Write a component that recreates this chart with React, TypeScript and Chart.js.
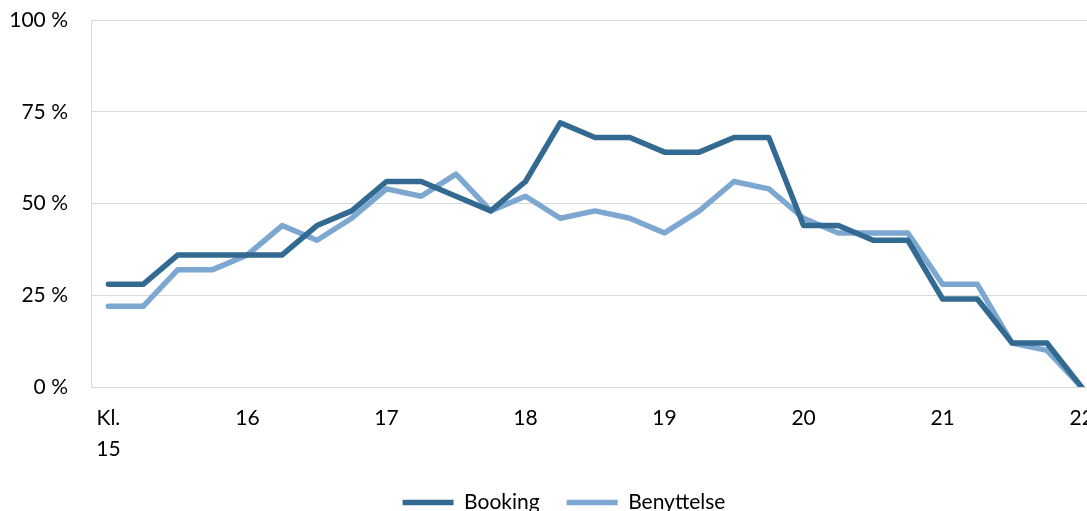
import React, { useEffect, useRef } from "react";
import { Chart, registerables } from "chart.js";

Chart.register(...registerables);

const timeLabels: string[] = [
  "15:00", "15:15", "15:30", "15:45",
  "16:00", "16:15", "16:30", "16:45",
  "17:00", "17:15", "17:30", "17:45",
  "18:00", "18:15", "18:30", "18:45",
  "19:00", "19:15", "19:30", "19:45",
  "20:00", "20:15", "20:30", "20:45",
  "21:00", "21:15", "21:30", "21:45",
  "22:00",
];

const bookingValues: number[] = [
  28, 28, 36, 36,
  36, 36, 44, 48,
  56, 56, 52, 48,
  56, 72, 68, 68,
  64, 64, 68, 68,
  44, 44, 40, 40,
  24, 24, 12, 12,
  0,
];

const benyttelseValues: number[] = [
  22, 22, 32, 32,
  36, 44, 40, 46,
  54, 52, 58, 48,
  52, 46, 48, 46,
  42, 48, 56, 54,
  46, 42, 42, 42,
  28, 28, 12, 10,
  0,
];

const yTicks: number[] = [0, 25, 50, 75, 100];

const FONT = "Lato, 'Noto Sans', sans-serif";

// nudges the legend box to match the reference placement
const legendNudge = {
  id: "legendNudge",
  afterLayout(chart: any) {
    const lg = chart.legend;
    if (!lg) return;
    const dx = 8.5;
    const dy = -15;
    lg.left += dx;
    lg.right += dx;
    lg.top += dy;
    lg.bottom += dy;
  },
};

export default function App() {
  const canvasRef = useRef<HTMLCanvasElement | null>(null);

  useEffect(() => {
    const canvas = canvasRef.current;
    if (!canvas) return;
    const chart = new Chart(canvas, {
      type: "line",
      data: {
        labels: timeLabels,
        datasets: [
          {
            label: "Booking",
            data: bookingValues,
            borderColor: "#336a92",
            backgroundColor: "#336a92",
            borderWidth: 5.5,
            borderCapStyle: "round",
            borderJoinStyle: "round",
            pointRadius: 0,
            pointHoverRadius: 0,
            tension: 0,
          },
          {
            label: "Benyttelse",
            data: benyttelseValues,
            borderColor: "#7ba7d1",
            backgroundColor: "#7ba7d1",
            borderWidth: 5.5,
            borderCapStyle: "round",
            borderJoinStyle: "round",
            pointRadius: 0,
            pointHoverRadius: 0,
            tension: 0,
          },
        ],
      },
      plugins: [legendNudge],
      options: {
        responsive: false,
        animation: false,
        layout: { padding: { left: 11, right: 10, top: 20, bottom: 2 } },
        plugins: {
          tooltip: { enabled: false },
          legend: {
            position: "bottom",
            labels: {
              usePointStyle: true,
              pointStyle: "line",
              pointStyleWidth: 51,
              padding: 27,
              color: "#000000",
              font: { family: FONT, size: 21 },
            },
          },
        },
        scales: {
          x: {
            type: "category",
            offset: true,
            grid: { display: false, drawTicks: false },
            border: { display: true, color: "#d9d9d9", width: 1 },
            ticks: {
              autoSkip: false,
              maxRotation: 0,
              minRotation: 0,
              padding: 16,
              color: "#000000",
              font: { family: FONT, size: 21, lineHeight: 1.45 },
              callback: function (_v: any, index: number) {
                const lbl = timeLabels[index];
                const [h, m] = lbl.split(":");
                if (m !== "00") return "";
                if (index === 0) return ["Kl.", h];
                return h;
              },
            },
          },
          y: {
            min: 0,
            max: 100,
            afterFit: (scale: any) => {
              scale.width = 80;
              scale.paddingTop = 0;
              scale.paddingBottom = 0;
            },
            afterBuildTicks: (scale: any) => {
              scale.ticks = yTicks.map((v) => ({ value: v }));
            },
            grid: { color: "#d9d9d9", lineWidth: 1, drawTicks: false },
            border: { display: true, color: "#d9d9d9", width: 1 },
            ticks: {
              padding: 23,
              color: "#000000",
              font: { family: FONT, size: 21 },
              callback: (v: any) => `${v} %`,
            },
          },
        },
      },
    });
    return () => chart.destroy();
  }, []);

  return (
    <div
      style={{
        position: "fixed",
        left: 0,
        top: 0,
        width: 1087,
        height: 511,
        overflow: "hidden",
        background: "#ffffff",
      }}
    >
      <canvas ref={canvasRef} width={1110} height={540} style={{ display: "block" }} />
    </div>
  );
}
